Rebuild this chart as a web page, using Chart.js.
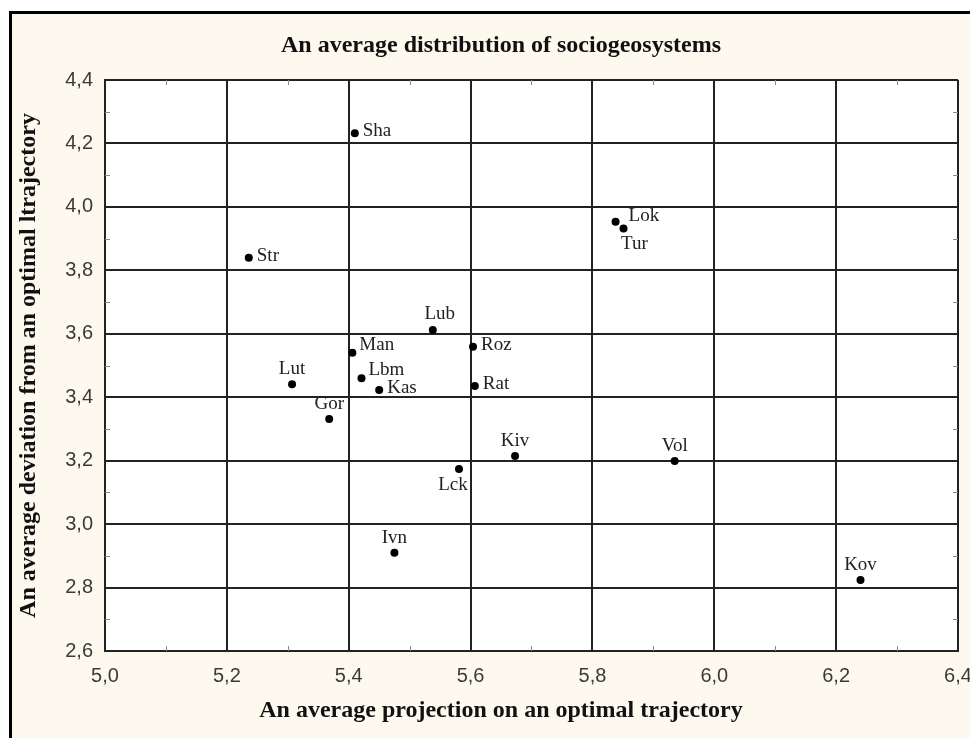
<!DOCTYPE html>
<html>
<head>
<meta charset="utf-8">
<title>An average distribution of sociogeosystems</title>
<script src="https://cdn.jsdelivr.net/npm/chart.js@4.4.1/dist/chart.umd.min.js"></script>
<style>
    body {
        margin: 0;
        background: #ffffff;
        overflow: hidden;
        width: 970px;
        height: 738px;
    }

    #frame {
        position: absolute;
        left: 9px;
        top: 11px;
        width: 1000px;
        height: 800px;
        border: 3px solid #000;
        background: #fdf9ee;
    }

    #myChart {
        position: absolute;
        left: 0;
        top: 0;
    }
</style>
</head>
<body>
<div id="frame"></div>
<canvas id="myChart" width="1002" height="738"></canvas>

<script>
// settlements and their coordinates
let names = ['Sha', 'Str', 'Lok', 'Tur', 'Lub', 'Man', 'Lbm', 'Kas', 'Lut', 'Gor', 'Roz', 'Rat', 'Kiv', 'Lck', 'Vol', 'Ivn', 'Kov'];
let projection = [5.410, 5.236, 5.838, 5.851, 5.538, 5.406, 5.421, 5.450, 5.307, 5.368, 5.604, 5.607, 5.673, 5.581, 5.935, 5.475, 6.240];
let deviation = [4.232, 3.840, 3.953, 3.932, 3.612, 3.540, 3.460, 3.423, 3.441, 3.331, 3.559, 3.435, 3.215, 3.174, 3.199, 2.910, 2.824];

// where the name sits next to its dot
let labelPos = ['r', 'r', 'rr', 'br', 'ar', 'ur', 'ur', 'r', 'a', 'a', 'r', 'r', 'a', 'bl', 'a', 'a', 'a'];

let xTicks = [5.0, 5.2, 5.4, 5.6, 5.8, 6.0, 6.2, 6.4];
let yTicks = [2.6, 2.8, 3.0, 3.2, 3.4, 3.6, 3.8, 4.0, 4.2, 4.4];

let points = [];
for (let i = 0; i < names.length; i++) {
    points.push({ x: projection[i], y: deviation[i] });
}

function commaNumber(value) {
    return value.toFixed(1).replace('.', ',');
}

// white inside the plot, cream outside
const plotBackground = {
    id: 'plotBackground',
    beforeDraw(chart) {
        const { ctx, chartArea } = chart;
        ctx.save();
        ctx.fillStyle = '#ffffff';
        ctx.fillRect(chartArea.left, chartArea.top, chartArea.right - chartArea.left, chartArea.bottom - chartArea.top);
        ctx.restore();
    }
};

// small marks half way between the grid lines
const minorTicks = {
    id: 'minorTicks',
    afterDraw(chart) {
        const { ctx, chartArea, scales } = chart;
        ctx.save();
        ctx.strokeStyle = '#8a8a8a';
        ctx.lineWidth = 1;
        ctx.beginPath();
        for (let i = 0; i < xTicks.length - 1; i++) {
            let px = Math.round(scales.x.getPixelForValue(xTicks[i] + 0.1)) + 0.5;
            ctx.moveTo(px, chartArea.bottom);
            ctx.lineTo(px, chartArea.bottom - 5);
            ctx.moveTo(px, chartArea.top);
            ctx.lineTo(px, chartArea.top + 5);
        }
        for (let i = 0; i < yTicks.length - 1; i++) {
            let py = Math.round(scales.y.getPixelForValue(yTicks[i] + 0.1)) + 0.5;
            ctx.moveTo(chartArea.left, py);
            ctx.lineTo(chartArea.left + 5, py);
            ctx.moveTo(chartArea.right, py);
            ctx.lineTo(chartArea.right - 5, py);
        }
        ctx.stroke();
        ctx.restore();
    }
};

// names of the settlements next to the dots
const pointNames = {
    id: 'pointNames',
    afterDatasetsDraw(chart) {
        const ctx = chart.ctx;
        const meta = chart.getDatasetMeta(0);
        ctx.save();
        ctx.font = '19px "Liberation Serif", "Times New Roman", serif';
        ctx.fillStyle = '#222222';
        ctx.textBaseline = 'middle';
        meta.data.forEach((pt, i) => {
            let pos = labelPos[i];
            let dx = 0;
            let dy = -15;
            ctx.textAlign = 'center';
            if (pos == 'r') {
                ctx.textAlign = 'left';
                dx = 8;
                dy = -2;
            }
            if (pos == 'rr') {
                ctx.textAlign = 'left';
                dx = 13;
                dy = -6;
            }
            if (pos == 'ur') {
                ctx.textAlign = 'left';
                dx = 7;
                dy = -8;
            }
            if (pos == 'ar') {
                dx = 7;
                dy = -16;
            }
            if (pos == 'br') {
                dx = 11;
                dy = 16;
            }
            if (pos == 'bl') {
                dx = -6;
                dy = 16;
            }
            ctx.fillText(names[i], pt.x + dx, pt.y + dy);
        });
        ctx.restore();
    }
};

const ctx = document.getElementById('myChart');

new Chart(ctx, {
    type: 'scatter',
    data: {
        datasets: [{
            label: 'Sociogeosystems',
            data: points,
            backgroundColor: '#000000',
            borderWidth: 0,
            pointRadius: 4,
            pointHoverRadius: 4
        }]
    },
    options: {
        responsive: false,
        devicePixelRatio: 1,
        animation: false,
        layout: {
            padding: 0
        },
        plugins: {
            legend: {
                display: false
            },
            tooltip: {
                enabled: false
            },
            title: {
                display: true,
                text: 'An average distribution of sociogeosystems',
                color: '#111111',
                font: {
                    family: '"Liberation Serif", "Times New Roman", serif',
                    size: 24,
                    weight: 'bold'
                },
                padding: { top: 31, bottom: 20.2 }
            },
            subtitle: {
                display: true,
                position: 'bottom',
                text: 'An average projection on an optimal trajectory',
                color: '#111111',
                font: {
                    family: '"Liberation Serif", "Times New Roman", serif',
                    size: 24,
                    weight: 'bold'
                },
                padding: { top: 0, bottom: 12.6 }
            }
        },
        scales: {
            x: {
                type: 'linear',
                min: 5.0,
                max: 6.4,
                afterBuildTicks: (scale) => {
                    scale.ticks = xTicks.map(v => ({ value: v }));
                },
                afterFit: (scale) => {
                    scale.height = 45.6;
                },
                grid: {
                    color: '#222222',
                    lineWidth: 2,
                    drawTicks: false
                },
                border: {
                    display: true,
                    color: '#222222',
                    width: 2
                },
                ticks: {
                    padding: 13,
                    color: '#3a3a3a',
                    font: {
                        family: '"Liberation Sans", Arial, sans-serif',
                        size: 20
                    },
                    callback: (value) => commaNumber(value)
                }
            },
            y: {
                type: 'linear',
                min: 2.6,
                max: 4.4,
                afterBuildTicks: (scale) => {
                    scale.ticks = yTicks.map(v => ({ value: v }));
                },
                afterFit: (scale) => {
                    scale.width = 105;
                },
                grid: {
                    color: '#222222',
                    lineWidth: 2,
                    drawTicks: false
                },
                border: {
                    display: true,
                    color: '#222222',
                    width: 2
                },
                ticks: {
                    padding: 12,
                    color: '#3a3a3a',
                    font: {
                        family: '"Liberation Sans", Arial, sans-serif',
                        size: 20
                    },
                    callback: (value) => commaNumber(value)
                },
                title: {
                    display: true,
                    text: 'An average deviation from an optimal ltrajectory',
                    color: '#111111',
                    font: {
                        family: '"Liberation Serif", "Times New Roman", serif',
                        size: 24,
                        weight: 'bold'
                    },
                    padding: { top: 14, bottom: 0 }
                }
            },
            // empty strip on the right, keeps the plot edge where the picture has it
            y2: {
                type: 'linear',
                position: 'right',
                afterFit: (scale) => {
                    scale.width = 44;
                },
                grid: {
                    display: false
                },
                border: {
                    display: false
                },
                ticks: {
                    display: false
                }
            }
        }
    },
    plugins: [plotBackground, minorTicks, pointNames]
});
</script>
</body>
</html>
